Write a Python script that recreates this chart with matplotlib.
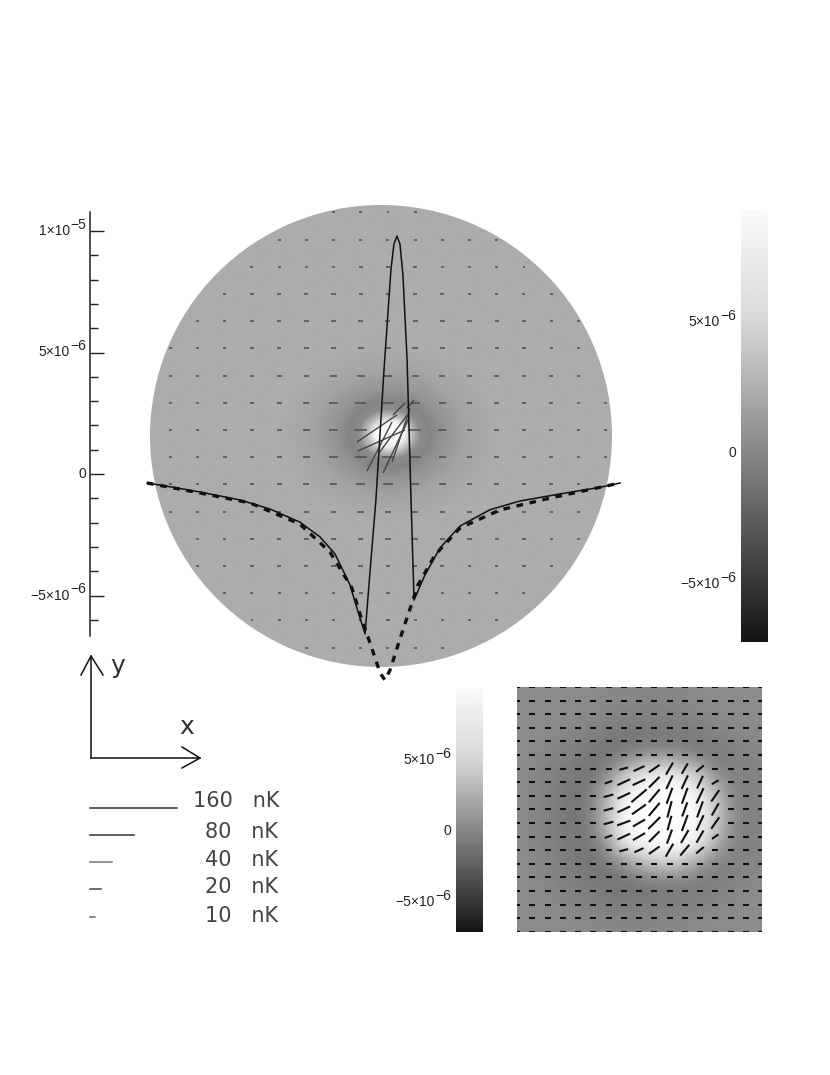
import numpy as np
import matplotlib
matplotlib.use("Agg")
import matplotlib.pyplot as plt
from matplotlib.collections import LineCollection
from matplotlib.patches import Circle

plt.rcParams['font.family'] = ['Liberation Sans', 'DejaVu Sans']

W, H = 830, 1075

# profile through the disk, x in disk radii, y in 1e-6
solid_x = [-1.013, -0.935, -0.784, -0.610, -0.481, -0.351, -0.264, -0.199, -0.134, -0.091, -0.069,
           -0.048, -0.022, 0.013, 0.043, 0.056, 0.069, 0.082, 0.095, 0.113, 0.130, 0.143,
           0.19, 0.255, 0.342, 0.472, 0.602, 0.775, 0.948, 1.035]
solid_y = [-0.37, -0.49, -0.74, -1.07, -1.44, -1.98, -2.59, -3.29, -4.57, -5.93, -6.58,
           -4.07, -1.07, 4.28, 8.40, 9.47, 9.79, 9.47, 8.19, 4.69, -1.07, -5.19,
           -4.16, -3.05, -2.14, -1.47, -1.11, -0.82, -0.55, -0.37]
dash_x = [-1.013, -0.784, -0.567, -0.351, -0.221, -0.126, -0.087, -0.043, -0.004, 0.017,
          0.039, 0.078, 0.121, 0.160, 0.234, 0.342, 0.515, 0.732, 1.035]
dash_y = [-0.37, -0.78, -1.19, -2.06, -3.21, -4.69, -5.88, -7.08, -8.19, -8.48,
          -8.07, -6.91, -5.68, -4.57, -3.33, -2.22, -1.48, -0.99, -0.37]

# disk brightness against radius
disk_r = [0, 0.055, 0.085, 0.12, 0.16, 0.21, 0.30, 0.42, 1.0]
disk_level = [253, 248, 195, 140, 133, 148, 163, 172, 172]

# polarization stick length in nK against radius
stick_r = [0.05, 0.15, 0.25, 0.4, 0.6, 0.8, 1.0]
stick_nk = [24, 22, 15, 10, 8, 6, 5]

# the long sticks in the middle of the disk: x0, y0, x1, y1
mid_x0 = [-0.104, -0.100, -0.061, 0.009, -0.009, 0.048, 0.052, 0.113]
mid_y0 = [-0.026, -0.065, -0.152, -0.160, -0.074, -0.113, 0.091, 0.121]
mid_x1 = [0.069, 0.104, 0.048, 0.121, 0.113, 0.126, 0.104, 0.143]
mid_y1 = [0.091, 0.026, 0.061, 0.078, 0.091, 0.121, 0.143, 0.156]

# zoomed image, gray levels
inset_level = [
    [140, 140, 140, 140, 138, 136, 135, 135, 136, 138, 140, 140, 140],
    [140, 140, 140, 138, 135, 132, 130, 130, 132, 135, 138, 140, 140],
    [140, 138, 135, 130, 125, 120, 118, 118, 120, 125, 130, 135, 138],
    [140, 135, 130, 123, 118, 118, 130, 140, 135, 122, 122, 130, 135],
    [138, 132, 125, 118, 120, 175, 225, 235, 230, 200, 135, 128, 132],
    [138, 130, 122, 116, 150, 235, 250, 252, 252, 245, 190, 130, 130],
    [138, 130, 122, 116, 165, 245, 252, 255, 255, 250, 212, 135, 130],
    [138, 130, 122, 116, 155, 245, 252, 255, 255, 250, 208, 132, 130],
    [138, 132, 124, 118, 125, 215, 245, 250, 250, 240, 170, 128, 132],
    [140, 134, 127, 120, 118, 125, 165, 190, 190, 150, 125, 128, 135],
    [140, 136, 130, 125, 120, 115, 115, 118, 120, 122, 128, 133, 138],
    [140, 138, 135, 130, 127, 125, 125, 126, 128, 130, 134, 138, 140],
    [140, 140, 140, 138, 136, 135, 135, 135, 136, 138, 140, 140, 140],
]

# sticks over the bright blob of the zoom, rows 6-12, columns 6-13
inset_ang = [
    [0, 15, 25, 35, 60, 60, 40, 0],
    [20, 25, 25, 45, 65, 65, 65, 30],
    [15, 25, 40, 50, 70, 70, 65, 55],
    [15, 25, 35, 50, 75, 70, 70, 60],
    [15, 20, 30, 45, 75, 70, 65, 55],
    [20, 25, 30, 45, 70, 60, 60, 35],
    [0, 15, 25, 35, 60, 50, 40, 0],
]
inset_len = [
    [6, 9, 12, 13, 14, 12, 10, 6],
    [8, 14, 14, 15, 15, 15, 14, 8],
    [10, 14, 20, 17, 17, 17, 17, 14],
    [10, 14, 17, 17, 17, 15, 17, 14],
    [10, 14, 14, 17, 15, 17, 17, 14],
    [8, 14, 14, 15, 15, 15, 14, 8],
    [6, 9, 10, 13, 15, 14, 10, 6],
]

# colour bar values (1e-6) and their gray
bar_gray = [20, 55, 135, 215, 250]
bar1_val = [-7.2, -5, 0, 5, 9.27]
bar2_val = [-7.1, -5, 0, 5, 10.07]
bar_ticks = [-5, 0, 5]
bar_base = ['\u22125\u00d710', '0', '5\u00d710']
bar_exp = ['\u22126', '', '\u22126']

prof_ticks = [-5, 0, 5, 10]
prof_base = ['\u22125\u00d710', '0', '5\u00d710', '1\u00d710']
prof_exp = ['\u22126', '', '\u22126', '\u22125']
prof_minor = [-6, -4, -3, -2, -1, 1, 2, 3, 4, 6, 7, 8, 9]

scale_nk = [160, 80, 40, 20, 10]
scale_color = ['#333333', '#333333', '#777777', '#444444', '#666666']
scale_text = ['160   nK', '80   nK', '40   nK', '20   nK', '10   nK']


def px_axes(left, top, right, bottom):
    return fig.add_axes([left / W, 1 - bottom / H, (right - left) / W, (bottom - top) / H])


def sci_labels(a, ticks, base, exp, pad):
    # the superscripts are as big as the digits, so mathtext does not do here
    tr = a.get_yaxis_transform()
    for t, b, e in zip(ticks, base, exp):
        off = -pad - 11.5 if e else -pad
        a.annotate(b, (0, t), xycoords=tr, xytext=(off, 0), textcoords='offset points',
                   ha='right', va='center', fontsize=10, color='#222222')
        if e:
            a.annotate(e, (0, t), xycoords=tr, xytext=(-pad, 4.5), textcoords='offset points',
                       ha='right', va='center', fontsize=10, color='#222222')


fig = plt.figure(figsize=(W / 100, H / 100), dpi=100)

# main disk
cx, cy, rad = 381, 436, 231
ax_disk = px_axes(cx - rad, cy - rad, cx + rad, cy + rad)
ax_disk.set_xlim(-1, 1)
ax_disk.set_ylim(-1, 1)
ax_disk.axis('off')
g = np.linspace(-1, 1, 700)
gx, gy = np.meshgrid(g, g)
rr = np.hypot((gx - 0.035) / 1.1, (gy - 0.009) / 0.9)
im = ax_disk.imshow(np.interp(rr, disk_r, disk_level), extent=[-1, 1, -1, 1], origin='lower',
                    cmap='gray', vmin=0, vmax=255)
im.set_clip_path(Circle((0, 0), 1, transform=ax_disk.transData))

step = 27.2 / rad
segs = []
for i in range(-8, 9):
    for j in range(-8, 9):
        x = 0.03 + j * step
        y = 0.026 - i * step
        r = np.hypot(x, y)
        if r > 0.99 or r < 0.05:
            continue
        half = np.interp(r, stick_r, stick_nk) * (87 / 160 / rad) / 2
        segs.append([(x - half, y), (x + half, y)])
ax_disk.add_collection(LineCollection(segs, colors='#555555', linewidths=1.2))
mid = [[(a, b), (c, d)] for a, b, c, d in zip(mid_x0, mid_y0, mid_x1, mid_y1)]
ax_disk.add_collection(LineCollection(mid, colors='#444444', linewidths=1.0))

# profile with its own axis
ax = px_axes(90, 212, 640, 636)
ax.patch.set_visible(False)
ax.set_xlim((90 - cx) / rad, (640 - cx) / rad)
ax.set_ylim((474 - 636) / 24.3, (474 - 212) / 24.3)
ax.plot(solid_x, solid_y, color='#111111', lw=1.1, clip_on=False)
ax.plot(dash_x, dash_y, color='#111111', lw=2.4, ls=(0, (2.0, 2.0)), clip_on=False)
for s in ['top', 'right', 'bottom']:
    ax.spines[s].set_visible(False)
ax.spines['left'].set_linewidth(1.1)
ax.spines['left'].set_color('#222222')
ax.set_xticks([])
ax.set_yticks(prof_ticks)
ax.set_yticklabels([])
ax.set_yticks(prof_minor, minor=True)
ax.tick_params(axis='y', which='major', direction='in', length=10, width=1.0, color='#222222')
ax.tick_params(axis='y', which='minor', direction='in', length=5.5, width=1.0, color='#222222')
sci_labels(ax, prof_ticks, prof_base, prof_exp, 3)

# colour bars
for box, vals in [((741, 210, 768, 642), bar1_val), ((456, 688, 483, 932), bar2_val)]:
    cb = px_axes(*box)
    v = np.linspace(vals[0], vals[-1], 256)
    cb.imshow(np.interp(v, vals, bar_gray)[:, None], extent=[0, 1, vals[0], vals[-1]], origin='lower',
              aspect='auto', cmap='gray', vmin=0, vmax=255)
    cb.set_xticks([])
    cb.set_yticks([])
    for s in cb.spines.values():
        s.set_visible(False)
    sci_labels(cb, bar_ticks, bar_base, bar_exp, 3.5)

# zoomed image with its sticks
ax_in = px_axes(517, 687, 762, 932)
ax_in.imshow(inset_level, extent=[0, 245, 245, 0], cmap='gray', vmin=0, vmax=255,
             interpolation='bicubic', aspect='auto')
ax_in.set_xlim(0, 245)
ax_in.set_ylim(245, 0)
ax_in.axis('off')
segs = []
for i in range(19):
    for j in range(17):
        x = j * 15.25
        y = i * 13.6
        ang, ln = 0, 6
        if 6 <= i <= 12 and 6 <= j <= 13:
            ang = inset_ang[i - 6][j - 6]
            ln = inset_len[i - 6][j - 6]
        dx = ln / 2 * np.cos(np.radians(ang))
        dy = ln / 2 * np.sin(np.radians(ang))
        segs.append([(x - dx, y + dy), (x + dx, y - dy)])
ax_in.add_collection(LineCollection(segs, colors='#111111', linewidths=1.5))

# scale bars, lengths on a nK axis
ax_sc = px_axes(90, 795, 177, 925)
ax_sc.set_xlim(0, 160)
ax_sc.set_ylim(925, 795)
ax_sc.axis('off')
for nk, col, yy in zip(scale_nk, scale_color, [808, 835, 862, 889, 917]):
    ax_sc.plot([0, nk], [yy, yy], color=col, lw=1.1, clip_on=False)

# page level bits in pixels
ax_p = px_axes(0, 0, W, H)
ax_p.patch.set_visible(False)
ax_p.set_xlim(0, W)
ax_p.set_ylim(H, 0)
ax_p.axis('off')
for xs, ys in [([91, 91], [758, 656]), ([81, 91, 103], [675, 656, 675]),
               ([91, 200], [758, 758]), ([182, 200, 182], [747, 758, 768])]:
    ax_p.plot(xs, ys, color='#111111', lw=1.1)
ax_p.text(118, 666, 'y', fontsize=18, color='#333333', ha='center', va='center', family='DejaVu Sans')
ax_p.text(187, 727, 'x', fontsize=18, color='#333333', ha='center', va='center', family='DejaVu Sans')
for t, x, y in zip(scale_text, [193, 205, 205, 205, 205], [801, 832, 860, 887, 916]):
    ax_p.text(x, y, t, fontsize=15, color='#444444', ha='left', va='center', family='DejaVu Sans')

fig.savefig('out.png', dpi=100)
plt.close()
